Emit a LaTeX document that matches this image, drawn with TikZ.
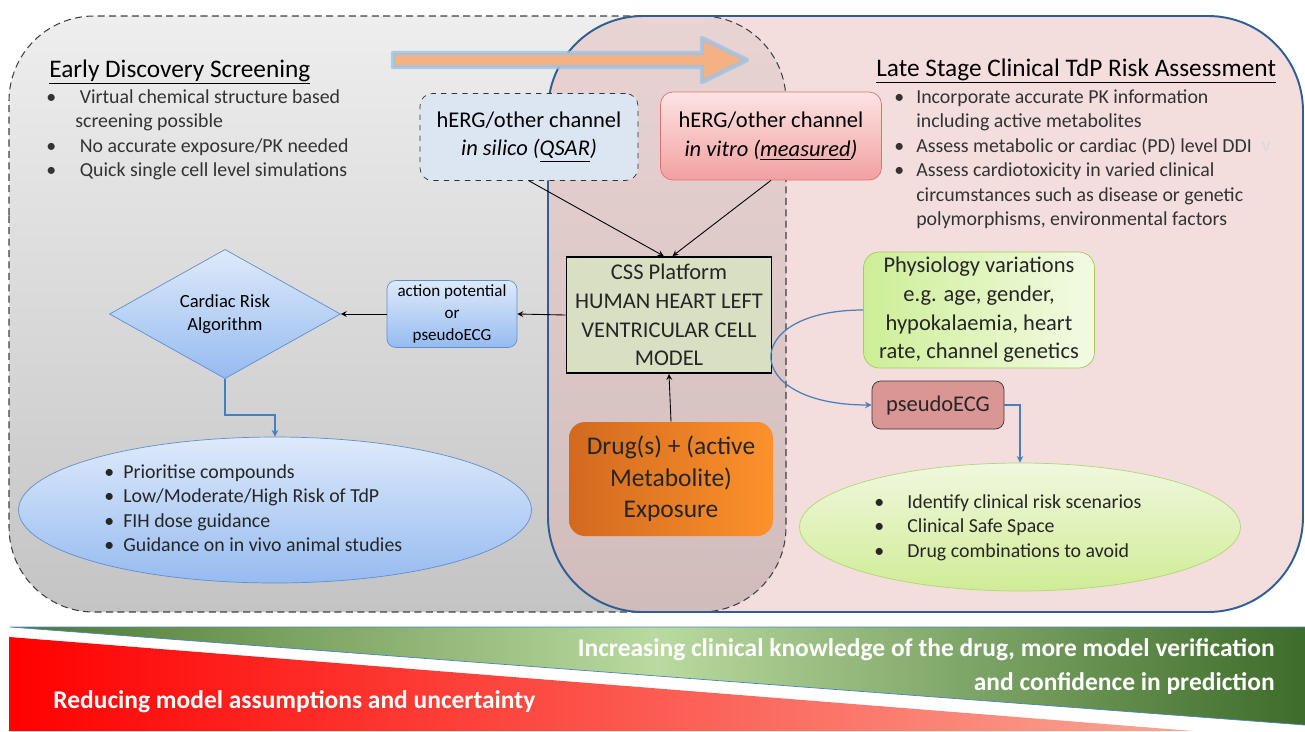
\documentclass[tikz,border=0pt]{standalone}
\usepackage{fontspec}
\setmainfont{Carlito}
\usetikzlibrary{shapes.geometric}
\definecolor{greytop}{RGB}{238,238,238}
\definecolor{greybot}{RGB}{196,196,196}
\definecolor{pinkfill}{RGB}{227,177,177}
\definecolor{boxblue}{RGB}{47,93,148}
\definecolor{arroworange}{RGB}{244,177,131}
\definecolor{glowblue}{RGB}{157,195,230}
\definecolor{silicofill}{RGB}{220,230,242}
\definecolor{vitrotop}{RGB}{253,228,228}
\definecolor{vitrobot}{RGB}{242,160,160}
\definecolor{vitroline}{RGB}{224,112,112}
\definecolor{cssfill}{RGB}{216,223,194}
\definecolor{druglft}{RGB}{209,106,31}
\definecolor{drugrgt}{RGB}{253,145,43}
\definecolor{bluetop}{RGB}{222,234,251}
\definecolor{bluebot}{RGB}{150,187,240}
\definecolor{blueedge}{RGB}{95,142,210}
\definecolor{physlft}{RGB}{205,238,150}
\definecolor{physrgt}{RGB}{243,251,228}
\definecolor{physline}{RGB}{160,205,95}
\definecolor{pecgfill}{RGB}{217,150,148}
\definecolor{greentop}{RGB}{240,248,222}
\definecolor{greenbot}{RGB}{208,236,150}
\definecolor{greenedge}{RGB}{175,215,115}
\definecolor{linkblue}{RGB}{74,126,187}
\definecolor{bandgreenL}{RGB}{75,120,48}
\definecolor{bandgreenM}{RGB}{185,218,160}
\definecolor{bandgreenR}{RGB}{62,108,42}
\definecolor{bandredL}{RGB}{255,0,0}
\definecolor{bandredR}{RGB}{249,168,150}
\definecolor{bandline}{RGB}{79,129,189}
\begin{document}
\begin{tikzpicture}[x=0.02cm,y=-0.02cm,>=stealth,
	bodytext/.style={font=\fontsize{11.3}{14}\selectfont,text=black!80,inner sep=0pt},
	titletext/.style={font=\fontsize{14.4}{17}\selectfont,inner sep=0pt},
	boxtext/.style={font=\fontsize{12.8}{16.3}\selectfont,align=center,inner sep=0pt},
	bandtext/.style={font=\fontsize{14.5}{17}\selectfont\bfseries,text=white,inner sep=0pt},
	link/.style={->,draw=linkblue,line width=0.7pt}]
	\useasboundingbox (0,0) rectangle (1305,731);
	% the two stages
	\shade[top color=greytop,bottom color=greybot,rounded corners=1.7cm] (9,300)--(9,16)--(786,16)--(786,612)--(9,612)--cycle;
	\fill[pinkfill,opacity=0.43,rounded corners=1.9cm] (548,300)--(548,16)--(1303,16)--(1303,612)--(548,612)--cycle;
	\draw[black!75,dash pattern=on 4pt off 2.5pt,line width=0.6pt,rounded corners=1.7cm] (9,300)--(9,16)--(786,16)--(786,612)--(9,612)--cycle;
	\draw[boxblue,line width=1.1pt,rounded corners=1.9cm] (548,300)--(548,16)--(1303,16)--(1303,612)--(548,612)--cycle;
	\filldraw[draw=glowblue,draw opacity=0.8,line width=2.5pt,fill=arroworange,line join=round] (393,53)--(702,53)--(702,38)--(747,60)--(702,82)--(702,67)--(393,67)--cycle;
	% titles and lists
	\node[titletext,anchor=base west] (early) at (49,77) {\underline{Early Discovery Screening}};
	\node[titletext,anchor=base west] (late) at (876,76) {\underline{Late Stage Clinical TdP Risk Assessment}};
	\node[bodytext,anchor=base west] (earlylist) at (46,103) {\begin{tabular}[t]{@{}p{16.5pt}@{}l@{}}
		\textbullet & \ Virtual chemical structure based\\
		& screening possible\\
		\textbullet & \ No accurate exposure/PK needed\\
		\textbullet & \ Quick single cell level simulations
		\end{tabular}};
	\node[bodytext,anchor=base west] (latelist) at (894,103) {\begin{tabular}[t]{@{}p{12.5pt}@{}l@{}}
		\textbullet & Incorporate accurate PK information\\
		& including active metabolites\\
		\textbullet & Assess metabolic or cardiac (PD) level DDI\\
		\textbullet & Assess cardiotoxicity in varied clinical\\
		& circumstances such as disease or genetic\\
		& polymorphisms, environmental factors
		\end{tabular}};
	\node[bodytext,text=black!15] (vmark) at (1266,147) {v};
	% flow
	\node[boxtext,draw=black!80,dashed,fill=silicofill,rounded corners=7pt,minimum width=4.36cm,minimum height=1.74cm] (silico) at (529,137) {hERG/other channel\\\textit{in silico (\underline{QSAR})}};
	\node[boxtext,draw=vitroline,top color=vitrotop,bottom color=vitrobot,rounded corners=7pt,minimum width=4.42cm,minimum height=1.76cm] (vitro) at (771,136) {hERG/other channel\\\textit{in vitro (\underline{measured})}};
	\node[boxtext,draw=black,line width=1.1pt,fill=cssfill,minimum width=4.1cm,minimum height=2.32cm,text=black!85] (css) at (669,315) {CSS Platform\\HUMAN HEART LEFT\\VENTRICULAR CELL\\MODEL};
	\node[boxtext,font=\fontsize{14.5}{18}\selectfont,left color=druglft,right color=drugrgt,rounded corners=9pt,minimum width=4.08cm,minimum height=2.28cm,text=black!85] (drug) at (671,479) {Drug(s) + (active\\Metabolite)\\Exposure};
	\node[boxtext,font=\fontsize{9.7}{12.5}\selectfont,draw=blueedge,top color=bluetop,bottom color=bluebot,rounded corners=5pt,minimum width=2.6cm,minimum height=1.34cm] (ap) at (452,314) {action potential\\or\\pseudoECG};
	\node[boxtext,font=\fontsize{10.6}{13}\selectfont,diamond,draw=blueedge,top color=bluetop,bottom color=bluebot,minimum width=4.62cm,minimum height=2.06cm] (risk) at (225,314) {Cardiac Risk\\Algorithm};
	\node[ellipse,draw=blueedge,top color=bluetop,bottom color=bluebot,minimum width=10.26cm,minimum height=2.92cm] (riskell) at (275,510) {};
	\node[bodytext,text=black!85,anchor=base west] (risklist) at (104,478) {\begin{tabular}[t]{@{}p{10.8pt}@{}l@{}}
		\textbullet & Prioritise compounds\\
		\textbullet & Low/Moderate/High Risk of TdP\\
		\textbullet & FIH dose guidance\\
		\textbullet & Guidance on in vivo animal studies
		\end{tabular}};
	\node[boxtext,draw=physline,left color=physlft,right color=physrgt,rounded corners=9pt,minimum width=4.62cm,minimum height=2.32cm,text=black!85] (physio) at (979,310) {Physiology variations\\e.g. age, gender,\\hypokalaemia, heart\\rate, channel genetics};
	\node[boxtext,draw=black!80,fill=pecgfill,rounded corners=5pt,minimum width=2.64cm,minimum height=0.96cm,text=black!85] (pecg) at (938,405) {pseudoECG};
	\node[ellipse,draw=greenedge,top color=greentop,bottom color=greenbot,minimum width=8.82cm,minimum height=2.56cm] (clinell) at (1020,527) {};
	\node[bodytext,text=black!85,anchor=base west] (clinlist) at (874,508) {\begin{tabular}[t]{@{}p{18.8pt}@{}l@{}}
		\textbullet & Identify clinical risk scenarios\\
		\textbullet & Clinical Safe Space\\
		\textbullet & Drug combinations to avoid
		\end{tabular}};
	\draw[->,line width=0.5pt] (silico.south)--([xshift=-3pt]css.north);
	\draw[->,line width=0.5pt] (vitro.south)--([xshift=2pt]css.north);
	\draw[->,line width=0.5pt] (drug.north)--(css.south);
	\draw[->,line width=0.5pt] (css.west)--(ap.east);
	\draw[->,line width=0.5pt] (ap.west)--(risk.east);
	\draw[link] (risk.south)--++(0,36)-|(riskell.north);
	\draw[link] (physio.west) .. controls +(-124,0) and +(-132,0) .. (pecg.west);
	\draw[link] (pecg.east)-|(clinell.north);
	% bottom band
	\shade[left color=bandgreenL,right color=bandgreenR,middle color=bandgreenM] (10,627)--(1305,627)--(1305,725)--cycle;
	\shade[left color=bandredL,right color=bandredR] (9,637)--(1193,731)--(9,731)--cycle;
	\draw[bandline,thin] (10,627)--(1305,627) (10,627)--(1305,725);
	\node[bandtext,anchor=east] (incr) at (1275,650) {Increasing clinical knowledge of the drug, more model verification};
	\node[bandtext,anchor=east] (conf) at (1275,684) {and confidence in prediction};
	\node[bandtext,anchor=west] (reduc) at (53,702) {Reducing model assumptions and uncertainty};
\end{tikzpicture}
\end{document}
